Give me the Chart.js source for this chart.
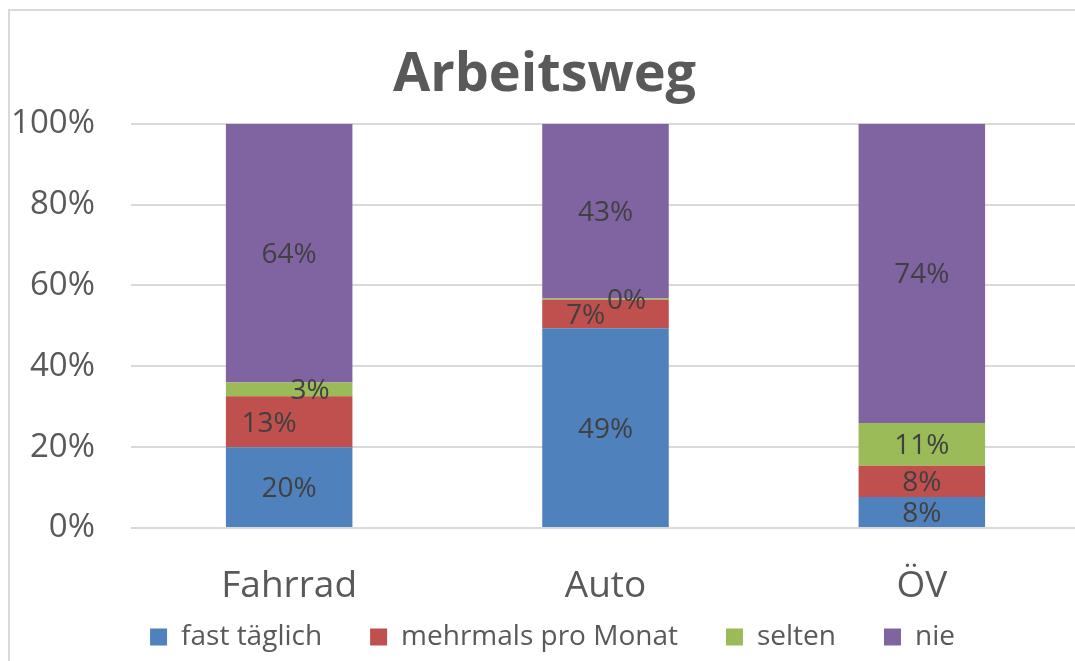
<!DOCTYPE html>
<html>
<head>
<meta charset="utf-8">
<script src="https://cdn.jsdelivr.net/npm/chart.js@4/dist/chart.umd.min.js"></script>
<style>
  html, body { margin: 0; padding: 0; background: #fff; overflow: hidden; }
  #frame {
    position: absolute; left: 8px; top: 9px; width: 1100px; height: 700px;
    border-left: 2px solid #d9d9d9; border-top: 2px solid #d9d9d9;
  }
  #wrap { position: absolute; left: 9px; top: 10px; width: 1080px; height: 651px; }
</style>
</head>
<body>
<div id="frame"></div>
<div id="wrap"><canvas id="chart"></canvas></div>
<script>
  // Daten (Anteile in %)
  const kategorien = ["Fahrrad", "Auto", "ÖV"];
  const serien = ["fast täglich", "mehrmals pro Monat", "selten", "nie"];
  const fastTaeglich = [20.0, 49.4, 7.7];
  const mehrmalsProMonat = [12.6, 7.1, 7.7];
  const selten = [3.4, 0.3, 10.6];
  const nie = [64.0, 43.2, 74.0];
  const yTicks = [0, 20, 40, 60, 80, 100];

  const farben = ["#4f81bd", "#c0504d", "#9bbb59", "#8064a2"];
  const FONT = "'Open Sans', 'DejaVu Sans', sans-serif";
  const LABEL_SIZE = 28;

  // Datenbeschriftungen mittig im Segment, bei Überlappung seitlich versetzt
  const labelPlugin = {
    id: "segLabels",
    afterDatasetsDraw(chart) {
      const ctx = chart.ctx;
      ctx.save();
      ctx.font = LABEL_SIZE + "px " + FONT;
      ctx.fillStyle = "#404040";
      ctx.textAlign = "center";
      ctx.textBaseline = "middle";
      const boxH = LABEL_SIZE * 1.35;
      kategorien.forEach((_, i) => {
        const items = chart.data.datasets.map((ds, d) => {
          const el = chart.getDatasetMeta(d).data[i];
          return {
            text: Math.round(ds.data[i]) + "%",
            x: el.x,
            y: (el.y + el.base) / 2 + 2,
            h: Math.abs(el.base - el.y),
            dx: 0
          };
        });
        for (let k = 1; k < items.length; k++) {
          const cur = items[k], prev = items[k - 1];
          if (cur.h < LABEL_SIZE && Math.abs(prev.y - cur.y) < boxH) {
            cur.dx = 21;
            prev.dx = -20;
          }
        }
        items.forEach(it => ctx.fillText(it.text, it.x + it.dx, it.y));
      });
      ctx.restore();
    }
  };

  // Legende etwas nach rechts (wie im Original)
  const legendShift = {
    id: "legendShift",
    afterLayout(chart) {
      if (chart.legend) {
        chart.legend.left += 8;
        chart.legend.right += 8;
      }
    }
  };

  new Chart(document.getElementById("chart"), {
    type: "bar",
    data: {
      labels: kategorien,
      datasets: [
        { label: serien[0], data: fastTaeglich, backgroundColor: farben[0] },
        { label: serien[1], data: mehrmalsProMonat, backgroundColor: farben[1] },
        { label: serien[2], data: selten, backgroundColor: farben[2] },
        { label: serien[3], data: nie, backgroundColor: farben[3] }
      ]
    },
    options: {
      responsive: true,
      maintainAspectRatio: false,
      animation: false,
      layout: { padding: { left: 0, right: 9, top: 0, bottom: 0 } },
      datasets: { bar: { barPercentage: 0.4, categoryPercentage: 1, borderWidth: 0 } },
      scales: {
        x: {
          stacked: true,
          afterFit(scale) {
            // feste Höhe; Beschriftung darf in den Legendenbereich ragen
            scale.height = 47;
            scale._computeLabelArea = () => undefined;
          },
          grid: { display: false },
          border: { display: false },
          ticks: { color: "#595959", font: { family: FONT, size: 37 }, padding: 28 }
        },
        y: {
          stacked: true,
          min: 0,
          max: 100,
          afterBuildTicks(scale) { scale.ticks = yTicks.map(v => ({ value: v })); },
          afterFit(scale) { scale.width = 122; },
          grid: { color: "#d9d9d9", lineWidth: 2, drawTicks: false },
          border: { display: false },
          ticks: {
            color: "#595959",
            font: { family: FONT, size: 33 },
            padding: 36,
            callback: v => v + "%"
          }
        }
      },
      plugins: {
        title: {
          display: true,
          text: "Arbeitsweg",
          color: "#595959",
          font: { family: FONT, size: 54, weight: "bold" },
          padding: { top: 33, bottom: 16 }
        },
        legend: {
          position: "bottom",
          labels: {
            color: "#595959",
            font: { family: FONT, size: 28 },
            boxWidth: 17,
            boxHeight: 17,
            padding: 48
          }
        },
        tooltip: { enabled: false }
      }
    },
    plugins: [labelPlugin, legendShift]
  });
</script>
</body>
</html>
